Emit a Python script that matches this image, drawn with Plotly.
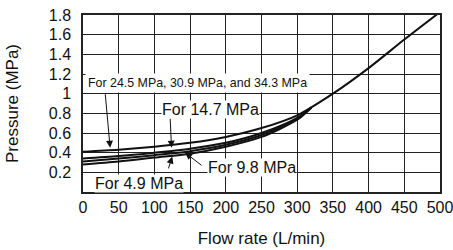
import plotly.graph_objects as go

# Data
flow_top = [0, 50, 100, 150, 200, 250, 300, 350, 400, 450, 500]
p_high = [0.41, 0.43, 0.46, 0.50, 0.56, 0.65, 0.78, 1.00, 1.26, 1.55, 1.83]  # 24.5 / 30.9 / 34.3 MPa

flow_low = [0, 50, 100, 150, 200, 250, 300, 320]
p_147 = [0.34, 0.365, 0.40, 0.44, 0.50, 0.60, 0.755, 0.86]
p_98 = [0.31, 0.34, 0.375, 0.415, 0.48, 0.58, 0.745, 0.86]
p_49 = [0.28, 0.31, 0.35, 0.39, 0.46, 0.56, 0.735, 0.86]

x_ticks = [0, 50, 100, 150, 200, 250, 300, 350, 400, 450, 500]
y_ticks = [0.2, 0.4, 0.6, 0.8, 1.0, 1.2, 1.4, 1.6, 1.8]

FONT = "Liberation Sans, Arial, sans-serif"

fig = go.Figure()
line = dict(color="#111111", width=2, shape="spline", smoothing=0.8)
for xs, ys, name in [(flow_top, p_high, "24.5/30.9/34.3 MPa"),
                     (flow_low, p_147, "14.7 MPa"),
                     (flow_low, p_98, "9.8 MPa"),
                     (flow_low, p_49, "4.9 MPa")]:
    fig.add_trace(go.Scatter(x=xs, y=ys, mode="lines", line=line, name=name,
                             showlegend=False, cliponaxis=True))

# Text labels
fig.add_annotation(x=160, y=1.113, xref="x", yref="y", showarrow=False,
                   text="For 24.5 MPa, 30.9 MPa, and 34.3 MPa",
                   font=dict(family=FONT, size=12.4, color="#111111"),
                   bgcolor="white", borderpad=2)
fig.add_annotation(x=178, y=0.84, xref="x", yref="y", showarrow=False,
                   text="For 14.7 MPa", font=dict(family=FONT, size=16, color="#111111"),
                   bgcolor="white", borderpad=0)
fig.add_annotation(x=79, y=0.09, xref="x", yref="y", showarrow=False,
                   text="For 4.9 MPa", font=dict(family=FONT, size=16, color="#111111"),
                   bgcolor="white", borderpad=0)
fig.add_annotation(x=236, y=0.25, xref="x", yref="y", showarrow=False,
                   text="For 9.8 MPa", font=dict(family=FONT, size=16, color="#111111"),
                   bgcolor="white", borderpad=0)

# Arrows (tip x,y ; tail ax,ay in data coords)
arrows = [
    (38, 0.45, 31, 1.01),
    (124, 0.45, 122, 0.76),
    (125, 0.36, 119, 0.225),
    (143, 0.40, 168, 0.26),
]
for x, y, ax, ay in arrows:
    fig.add_annotation(x=x, y=y, ax=ax, ay=ay, xref="x", yref="y", axref="x", ayref="y",
                       text="", showarrow=True, arrowhead=2, arrowsize=1.4,
                       arrowwidth=1, arrowcolor="#111111", standoff=0, startstandoff=0)

fig.update_layout(
    width=453, height=250,
    margin=dict(l=83, r=13, t=15, b=58),
    paper_bgcolor="white", plot_bgcolor="white",
    font=dict(family=FONT, size=16, color="#111111"),
)
fig.update_xaxes(
    range=[0, 500], tickvals=x_ticks, showgrid=True, gridcolor="#222222", gridwidth=1,
    showline=True, linecolor="#222222", linewidth=1.5, mirror=True, zeroline=False,
    ticks="", ticklabelstandoff=0, tickfont=dict(size=16), automargin=False,
    ticklabeloverflow="allow",
    title=dict(text="Flow rate (L/min)", font=dict(size=17), standoff=17),
)
fig.update_yaxes(
    range=[0, 1.8], tickvals=y_ticks, showgrid=True, gridcolor="#222222", gridwidth=1,
    showline=True, linecolor="#222222", linewidth=1.5, mirror=True, zeroline=False,
    ticks="", ticklabelstandoff=7, tickfont=dict(size=16), automargin=False,
    ticklabeloverflow="allow",
    title=dict(text="Pressure (MPa)", font=dict(size=17), standoff=26),
)

fig.write_html("out.html", config={"displayModeBar": False},
               post_script="document.body.style.margin='0';")
